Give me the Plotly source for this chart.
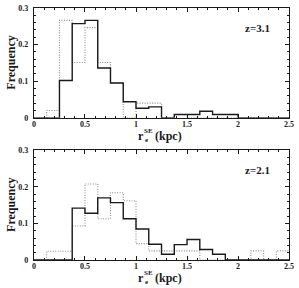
import plotly.graph_objects as go

# Bin edges (kpc) and frequencies
bin_edges = [i * 0.125 for i in range(21)]

top_solid = [0, 0, 0.102, 0.257, 0.266, 0.136, 0.095, 0.044, 0.026, 0.030,
             0, 0.009, 0.009, 0.018, 0.009, 0.009, 0, 0, 0, 0]
top_dotted = [0, 0.020, 0.266, 0.151, 0.246, 0.151, 0.095, 0, 0.040, 0.040,
              0, 0.009, 0, 0, 0, 0, 0, 0, 0, 0]

bot_solid = [0, 0, 0, 0.142, 0.128, 0.170, 0.157, 0.113, 0.085, 0.043,
             0.016, 0.042, 0.056, 0.029, 0.016, 0, 0, 0, 0, 0]
bot_dotted = [0, 0.024, 0.024, 0.093, 0.208, 0.113, 0.184, 0.162, 0.045, 0.025,
              0.025, 0.025, 0.025, 0, 0, 0, 0, 0.025, 0, 0.025]

panel_labels = ["z=3.1", "z=2.1"]
x_tickvals = [0, 0.5, 1, 1.5, 2, 2.5]
y_tickvals = [0, 0.1, 0.2, 0.3]

FONT = "Liberation Serif"
INK = "#1a1a1a"

fig = go.Figure()


def step_trace(vals, xaxis, yaxis, dotted):
    xs = list(bin_edges)
    ys = list(vals) + [vals[-1]]
    return go.Scatter(
        x=xs, y=ys, mode="lines", line_shape="hv",
        line=dict(color="#8a8a8a" if dotted else INK,
                  width=1.1 if dotted else 1.4,
                  dash="1px,1.5px" if dotted else "solid"),
        xaxis=xaxis, yaxis=yaxis, showlegend=False, hoverinfo="skip",
    )


fig.add_trace(step_trace(top_dotted, "x", "y", True))
fig.add_trace(step_trace(top_solid, "x", "y", False))
fig.add_trace(step_trace(bot_dotted, "x2", "y2", True))
fig.add_trace(step_trace(bot_solid, "x2", "y2", False))

xdom = [32.7 / 299, 294 / 299]
ydom_top = [1 - 117.5 / 288, 1 - 4 / 288]
ydom_bot = [1 - 264.3 / 288, 1 - 151 / 288]

axis_common = dict(
    showgrid=False, zeroline=False, showline=True, linecolor=INK,
    linewidth=1.2, mirror="allticks", ticks="inside", tickcolor=INK,
    ticklen=4, tickwidth=1,
    tickfont=dict(family=FONT, size=8, color=INK, weight="bold"),
    ticklabeloverflow="allow",
)

xaxis_cfg = dict(axis_common, range=[0, 2.5], tickvals=x_tickvals,
                 minor=dict(dtick=0.1, ticks="inside", ticklen=2,
                            tickcolor=INK, tickwidth=1),
                 domain=xdom, ticklabelstandoff=-2)
yaxis_cfg = dict(axis_common, range=[0, 0.3], tickvals=y_tickvals,
                 minor=dict(dtick=0.02, ticks="inside", ticklen=2,
                            tickcolor=INK, tickwidth=1),
                 ticklabelstandoff=3)

fig.update_layout(
    width=299, height=288,
    margin=dict(l=0, r=0, t=0, b=0),
    paper_bgcolor="white", plot_bgcolor="white",
    xaxis=dict(xaxis_cfg, anchor="y"),
    yaxis=dict(yaxis_cfg, domain=ydom_top, anchor="x"),
    xaxis2=dict(xaxis_cfg, anchor="y2"),
    yaxis2=dict(yaxis_cfg, domain=ydom_bot, anchor="x2"),
)

annotations = []
for i, (lbl, yd) in enumerate(zip(panel_labels, [ydom_top, ydom_bot])):
    annotations.append(dict(
        text=lbl, x=262 / 299, y=yd[1] - 0.071, xref="paper", yref="paper",
        showarrow=False, xanchor="center", yanchor="middle",
        font=dict(family=FONT, size=11, color=INK, weight="bold")))
    annotations.append(dict(
        text="Frequency", x=9 / 299, y=(yd[0] + yd[1]) / 2, xref="paper",
        yref="paper", showarrow=False, textangle=-90, xanchor="center",
        yanchor="middle",
        font=dict(family=FONT, size=12, color=INK, weight="bold")))
    base_y = yd[0] - 0.064
    annotations.append(dict(
        text="r", x=142 / 299, y=base_y, xref="paper", yref="paper",
        showarrow=False, xanchor="center", yanchor="middle",
        font=dict(family=FONT, size=12, color=INK, weight="bold")))
    annotations.append(dict(
        text="SE", x=149.5 / 299, y=base_y + 0.016, xref="paper", yref="paper",
        showarrow=False, xanchor="center", yanchor="middle",
        font=dict(family=FONT, size=7, color=INK, weight="bold")))
    annotations.append(dict(
        text="e", x=147.5 / 299, y=base_y - 0.016, xref="paper", yref="paper",
        showarrow=False, xanchor="center", yanchor="middle",
        font=dict(family=FONT, size=7, color=INK, weight="bold")))
    annotations.append(dict(
        text="(kpc)", x=155 / 299, y=base_y, xref="paper", yref="paper",
        showarrow=False, xanchor="left", yanchor="middle",
        font=dict(family=FONT, size=12, color=INK, weight="bold")))

fig.update_layout(annotations=annotations)

fig.write_html("out.html")
